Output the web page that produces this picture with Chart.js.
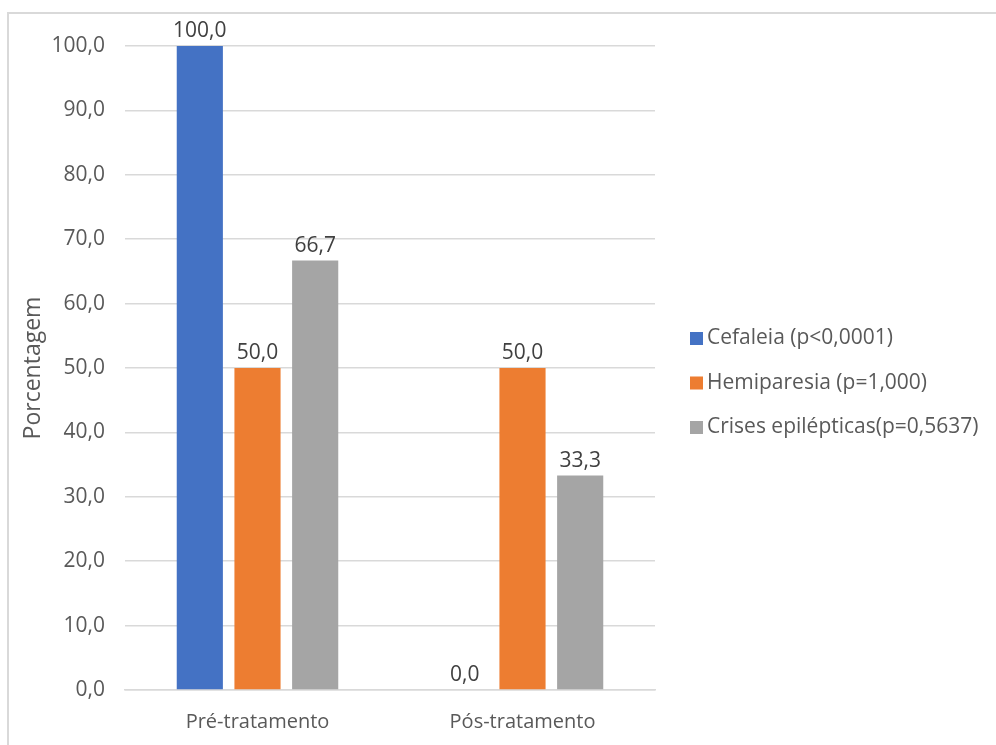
<!DOCTYPE html>
<html>
<head>
<meta charset="utf-8">
<script src="https://cdn.jsdelivr.net/npm/chart.js@4"></script>
<style>
  body { margin: 0; background: #fff; }
  #wrap { position: relative; width: 996px; height: 745px; overflow: hidden; }
  #frame { position: absolute; left: 7px; top: 12px; width: 1100px; height: 900px; border: 2px solid #d9d9d9; }
  #myChart { position: absolute; left: 0; top: 0; }
</style>
</head>
<body>
<div id="wrap">
  <div id="frame"></div>
  <canvas id="myChart" width="996" height="745"></canvas>
</div>
<script>
// data
const categories = ['Pré-tratamento', 'Pós-tratamento']
const seriesNames = ['Cefaleia (p<0,0001)', 'Hemiparesia (p=1,000)', 'Crises epilépticas(p=0,5637)']
const cefaleia = [100.0, 0.0]
const hemiparesia = [50.0, 50.0]
const crises = [66.7, 33.3]
const yTicks = [0, 10, 20, 30, 40, 50, 60, 70, 80, 90, 100]

const colors = ['#4472C4', '#ED7D31', '#A5A5A5']
const fontFam = '"Open Sans", sans-serif'

function fmt(v) {
    return Number(v).toFixed(1).replace('.', ',')
}

// value labels over bars
const valueLabels = {
    id: 'valueLabels',
    afterDatasetsDraw(chart) {
        const ctx = chart.ctx
        ctx.save()
        ctx.font = '21px ' + fontFam
        ctx.fillStyle = '#404040'
        ctx.textAlign = 'center'
        ctx.textBaseline = 'bottom'
        chart.data.datasets.forEach((ds, i) => {
            chart.getDatasetMeta(i).data.forEach((bar, j) => {
                ctx.fillText(fmt(ds.data[j]), bar.x, bar.y - 4)
            })
        })
        ctx.restore()
    }
}

// legend drawn next to the plot
const sideLegend = {
    id: 'sideLegend',
    afterDraw(chart) {
        const ctx = chart.ctx
        const area = chart.chartArea
        const x = area.right + 35
        const midY = (area.top + area.bottom) / 2 + 15
        ctx.save()
        ctx.font = '21px ' + fontFam
        ctx.textBaseline = 'middle'
        ctx.textAlign = 'left'
        chart.data.datasets.forEach((ds, i) => {
            const y = midY + (i - 1) * 44.5
            ctx.fillStyle = ds.backgroundColor
            ctx.fillRect(x, y - 6.5, 13, 13)
            ctx.fillStyle = '#595959'
            ctx.fillText(ds.label, x + 17, y)
        })
        ctx.restore()
    }
}

var ctx = document.getElementById('myChart')

var myChart = new Chart(ctx, {
    type: 'bar',
    data: {
        labels: categories,
        datasets: [
            { label: seriesNames[0], data: cefaleia, backgroundColor: colors[0] },
            { label: seriesNames[1], data: hemiparesia, backgroundColor: colors[1] },
            { label: seriesNames[2], data: crises, backgroundColor: colors[2] }
        ]
    },
    options: {
        responsive: false,
        animation: false,
        datasets: {
            bar: { categoryPercentage: 0.653, barPercentage: 0.8 }
        },
        layout: {
            padding: { left: 16, top: 46, right: 341, bottom: 0 }
        },
        plugins: {
            legend: { display: false },
            tooltip: { enabled: false }
        },
        scales: {
            x: {
                afterFit(scale) { scale.height = 55 },
                grid: { display: false, drawTicks: false },
                border: { color: '#d9d9d9', width: 1.5 },
                ticks: { color: '#595959', font: { family: fontFam, size: 20 }, padding: 20 }
            },
            y: {
                min: 0,
                max: 100,
                afterFit(scale) { scale.width = 109 },
                afterBuildTicks(scale) {
                    scale.ticks = yTicks.map(v => ({ value: v }))
                },
                grid: { color: '#d9d9d9', lineWidth: 1.5, drawTicks: false },
                border: { display: false },
                ticks: {
                    color: '#595959',
                    font: { family: fontFam, size: 21 },
                    padding: 20,
                    callback: v => fmt(v)
                },
                title: {
                    display: true,
                    text: 'Porcentagem',
                    color: '#595959',
                    font: { family: fontFam, size: 23 }
                }
            }
        }
    },
    plugins: [valueLabels, sideLegend]
})
</script>
</body>
</html>
